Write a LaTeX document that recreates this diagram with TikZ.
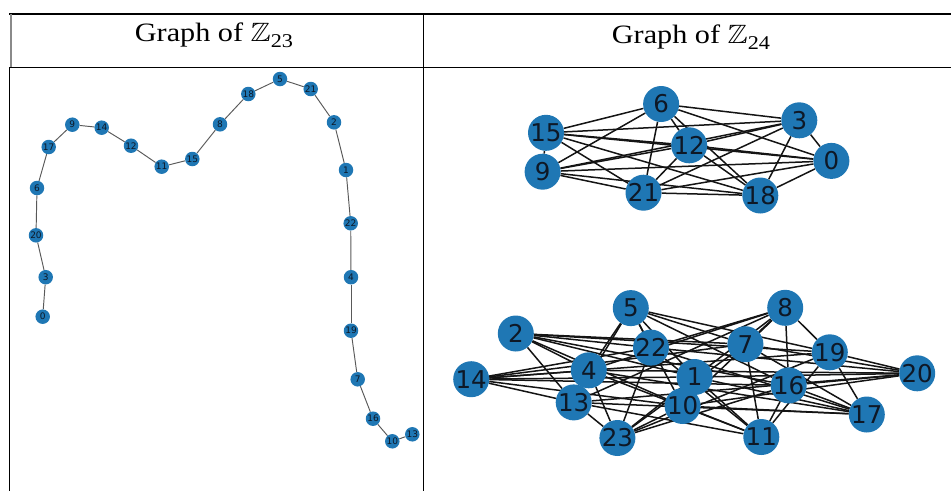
\documentclass[tikz,border=0pt]{standalone}
\usepackage{fontspec}
\usepackage{amssymb}
\setmainfont{Liberation Serif}
\newfontfamily\lblfont{DejaVu Sans}

\definecolor{nodeblue}{HTML}{1F77B4}
\definecolor{lbltext}{HTML}{0E1826}
\definecolor{headgray}{HTML}{8A8A8A}

\pgfdeclarelayer{edges}
\pgfdeclarelayer{labels}
\pgfsetlayers{edges,main,labels}

% ring name with a lowered index, as set in the table head
\newcommand{\ringname}[1]{\scalebox{1.14}[1]{Graph of $\mathbb{Z}$\raisebox{-6pt}{\fontsize{19.5}{19.5}\selectfont #1}}}

\tikzset{
  smallvert/.style={circle, fill=nodeblue, inner sep=0pt, minimum size=14.5pt},
  bigvert/.style={circle, fill=nodeblue, inner sep=0pt, minimum size=36pt},
  smalllbl/.style={font=\lblfont\fontsize{9}{9}\selectfont, text=lbltext, inner sep=0pt},
  biglbl/.style={font=\lblfont\fontsize{24.5}{24.5}\selectfont, text=lbltext, inner sep=0pt},
  pathedge/.style={draw=black!65, line width=0.95pt},
  denseedge/.style={draw=black!92, line width=1.5pt},
  headtext/.style={font=\fontsize{26.5}{26.5}\selectfont, inner sep=0pt, anchor=base},
}

\begin{document}
\begin{tikzpicture}[x=1pt,y=-1pt]
\useasboundingbox (0,0) rectangle (951,491);

% ---- table rules ----
\draw[line width=2.3pt] (9,13.8) -- (951,13.8);
\draw[line width=1.2pt] (9,67.3) -- (951,67.3);
\draw[headgray, line width=2pt] (10.5,13.8) -- (10.5,67.3);
\draw[line width=1pt] (9.8,67.3) -- (9.8,491);
\draw[line width=1pt] (423.2,13.8) -- (423.2,491);

% ---- header ----
\node[headtext] (h1) at (214,41.5) {\ringname{23}};
\node[headtext] (h2) at (691,43) {\ringname{24}};

% ---- graph of Z_23 ----
\foreach \n/\x/\y in {0/42.7/316.7, 1/346/170, 2/334/122.3, 3/45.7/277.2,
  4/351/277.2, 5/280/79, 6/37/188, 7/357.7/379.3, 8/220/124.3, 9/72.3/124.7,
  10/392.3/441.3, 11/161.7/166.7, 12/131/145.7, 13/412.3/434.3, 14/101.7/127.7,
  15/192.3/159, 16/373/418.7, 17/48.7/147, 18/248.3/94, 19/351/330.7,
  20/36/235.3, 21/310.7/89, 22/350.7/223.3}
  \node[smallvert] (a\n) at (\x,\y) {};

\begin{pgfonlayer}{edges}
\foreach \u/\v in {0/3, 3/20, 20/6, 6/17, 17/9, 9/14, 14/12, 12/11, 11/15,
  15/8, 8/18, 18/5, 5/21, 21/2, 2/1, 1/22, 22/4, 4/19, 19/7, 7/16, 16/10, 10/13}
  \draw[pathedge] (a\u) -- (a\v);
\end{pgfonlayer}

\begin{pgfonlayer}{labels}
\foreach \n in {0,...,22}
  \node[smalllbl] (la\n) at (a\n) {\n};
\end{pgfonlayer}

% ---- graph of Z_24 ----
\foreach \n/\x/\y in {0/831.4/160.9, 1/694.6/377, 2/515.8/333.5, 3/799.3/120.3,
  4/588.8/370.3, 5/630.8/308.1, 6/661.1/104, 7/745.4/344.2, 8/785.2/307.8,
  9/542.6/171.7, 10/682.6/406, 11/761.3/437, 12/689.2/145.3, 13/573.7/402.4,
  14/471.2/379.2, 15/546/132.8, 16/788.7/385.4, 17/866.8/414.5, 18/760.3/195.5,
  19/829.8/352.3, 20/917.2/373.3, 21/643.5/192.7, 22/651/347.6, 23/617.4/438}
  \node[bigvert] (b\n) at (\x,\y) {};

\begin{pgfonlayer}{edges}
% multiples of 3: every pair joined
\foreach \u in {0,3,...,21}{
  \foreach \v in {0,3,...,21}{
    \ifnum\u<\v \draw[denseedge] (b\u) -- (b\v); \fi
  }
}
% residues 1 and 2 mod 3: joined across the two classes
\foreach \u in {1,4,...,22}{
  \foreach \v in {2,5,...,23}{
    \draw[denseedge] (b\u) -- (b\v);
  }
}
\end{pgfonlayer}

\begin{pgfonlayer}{labels}
\foreach \n in {0,...,23}
  \node[biglbl] (lb\n) at (b\n) {\n};
\end{pgfonlayer}

\end{tikzpicture}
\end{document}
